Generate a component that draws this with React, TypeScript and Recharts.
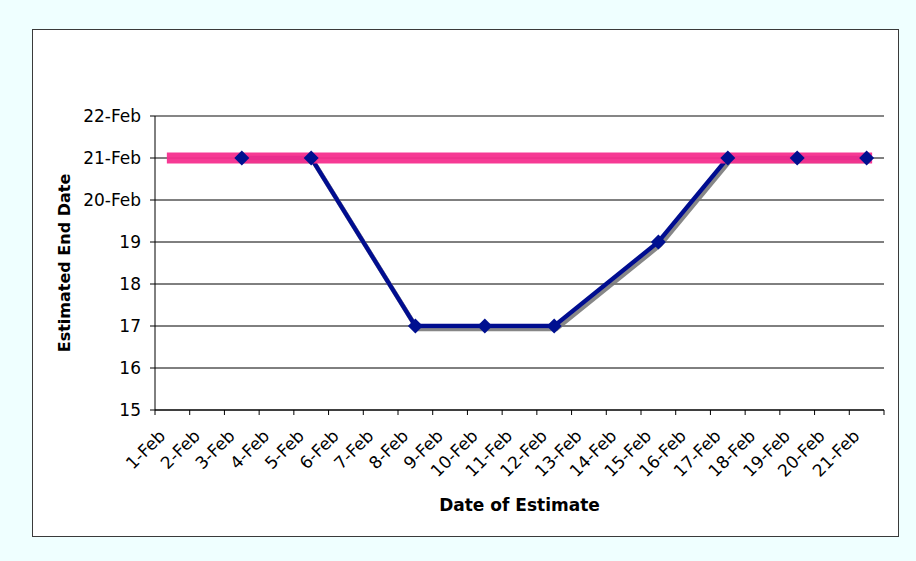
import { CartesianGrid, Label, Line, LineChart, ReferenceLine, XAxis, YAxis } from "recharts";

const days = [
  "1-Feb", "2-Feb", "3-Feb", "4-Feb", "5-Feb", "6-Feb", "7-Feb",
  "8-Feb", "9-Feb", "10-Feb", "11-Feb", "12-Feb", "13-Feb", "14-Feb",
  "15-Feb", "16-Feb", "17-Feb", "18-Feb", "19-Feb", "20-Feb", "21-Feb",
];

// estimated end date (day of Feb), only on the days an estimate was made
const estimatedEnd: (number | null)[] = [
  null, null, 21, null, 21, null, null, 17, null, 17, null, 17, null, null,
  19, null, 21, null, 21, null, 21,
];

// planned end date line
const plannedEnd: (number | null)[] = [
  21, null, null, null, null, null, null, null, null, null, null, null, null, null,
  null, null, null, null, null, null, 21,
];

const yTicks = [15, 16, 17, 18, 19, 20, 21, 22];

const W = 916;
const H = 561;
const PLOT_W = 729;
const STEP = PLOT_W / days.length;
const FONT = "'DejaVu Sans', Verdana, sans-serif";
const BLUE = "#001090";
const PINK = "#F52F8E";

const data = days.map((day, i) => ({
  day,
  estimate: estimatedEnd[i],
  planned: plannedEnd[i],
}));

const fmtY = (v: number) => (v >= 20 ? `${v}-Feb` : `${v}`);

const XTick = (props: any) => {
  const { x, y, payload, index } = props;
  const last = index === days.length - 1;
  const tx = x - 6;
  const ty = y + 27;
  return (
    <g>
      <line x1={x - STEP / 2} x2={x - STEP / 2} y1={y} y2={y + 5} stroke="#000" />
      {last && <line x1={x + STEP / 2} x2={x + STEP / 2} y1={y} y2={y + 5} stroke="#000" />}
      <text
        x={tx}
        y={ty}
        transform={`rotate(-45 ${tx} ${ty})`}
        textAnchor="end"
        fontSize={17}
        fontFamily={FONT}
        fill="#000"
      >
        {payload.value}
      </text>
    </g>
  );
};

const Diamond = (props: any) => {
  const { cx, cy, index } = props;
  if (cx == null || cy == null || props.value == null) return <g key={`d-${index}`} />;
  const r = 7.5;
  return (
    <path
      key={`d-${index}`}
      d={`M${cx},${cy - r}L${cx + r},${cy}L${cx},${cy + r}L${cx - r},${cy}Z`}
      fill={BLUE}
    />
  );
};

export default function App() {
  return (
    <div style={{ position: "absolute", left: 0, top: 0, width: W, height: H, background: "#EFFFFF", fontFamily: FONT }}>
      <style>{`.est-line { filter: url(#lineShadow); }`}</style>
      <div
        style={{
          position: "absolute",
          left: 32,
          top: 29,
          width: 867,
          height: 508,
          boxSizing: "border-box",
          border: "1px solid #3a3a3a",
          background: "#fff",
        }}
      />
      <div style={{ position: "absolute", left: 0, top: 0 }}>
        <LineChart width={W} height={H} data={data} margin={{ top: 116, right: 32, bottom: 51, left: 75 }}>
          <defs>
            <filter id="lineShadow" filterUnits="userSpaceOnUse" x="0" y="0" width={W} height={H}>
              <feDropShadow dx="2" dy="3" stdDeviation="0.6" floodColor="#7a7a7a" floodOpacity="0.9" />
            </filter>
          </defs>
          <CartesianGrid vertical={false} stroke="#000" strokeWidth={1} />
          <ReferenceLine y={22} stroke="#888" strokeWidth={1.5} />
          <XAxis
            dataKey="day"
            interval={0}
            padding={{ left: STEP / 2, right: STEP / 2 }}
            height={100}
            tickLine={false}
            tickSize={0}
            tickMargin={0}
            axisLine={{ stroke: "#000" }}
            tick={<XTick />}
          >
            <Label
              content={(p: any) => {
                const vb = p.viewBox;
                return (
                  <text
                    x={vb.x + vb.width / 2}
                    y={vb.y + 101}
                    textAnchor="middle"
                    fontSize={17}
                    fontWeight="bold"
                    fontFamily={FONT}
                    fill="#000"
                  >
                    Date of Estimate
                  </text>
                );
              }}
            />
          </XAxis>
          <YAxis
            domain={[15, 22]}
            ticks={yTicks}
            interval={0}
            width={80}
            tickFormatter={fmtY}
            tickSize={5}
            tickMargin={9}
            tickLine={{ stroke: "#000" }}
            axisLine={{ stroke: "#000" }}
            tick={{ fontSize: 17, fontFamily: FONT, fill: "#000" }}
          >
            <Label
              content={(p: any) => {
                const vb = p.viewBox;
                const cx = vb.x - 5;
                const cy = vb.y + vb.height / 2;
                return (
                  <text
                    x={cx}
                    y={cy}
                    transform={`rotate(-90 ${cx} ${cy})`}
                    textAnchor="middle"
                    fontSize={16}
                    fontWeight="bold"
                    fontFamily={FONT}
                    fill="#000"
                  >
                    Estimated End Date
                  </text>
                );
              }}
            />
          </YAxis>
          <YAxis
            yAxisId="right"
            orientation="right"
            width={0}
            tick={false}
            tickLine={false}
            axisLine={{ stroke: "#9a9a9a", strokeWidth: 2 }}
          />
          <Line
            className="est-line"
            dataKey="estimate"
            stroke={BLUE}
            strokeWidth={4.5}
            connectNulls
            dot={Diamond}
            activeDot={false}
            isAnimationActive={false}
          />
          <Line
            dataKey="planned"
            stroke={PINK}
            strokeOpacity={0.95}
            strokeWidth={11}
            strokeLinecap="square"
            connectNulls
            dot={false}
            activeDot={false}
            isAnimationActive={false}
          />
        </LineChart>
      </div>
    </div>
  );
}
